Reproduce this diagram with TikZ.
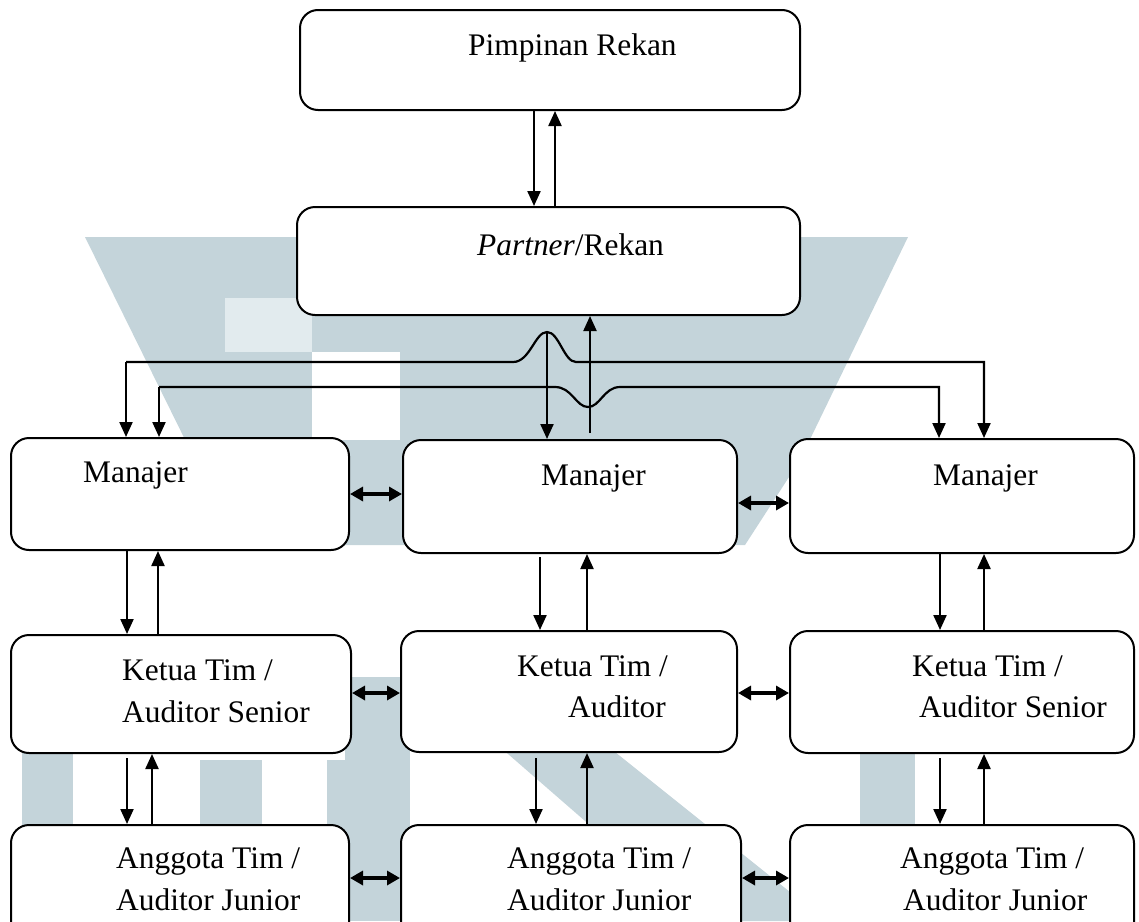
\documentclass[tikz,border=0pt]{standalone}
\usepackage{fontspec}
\setmainfont{Liberation Serif}
\usetikzlibrary{arrows.meta}
\definecolor{wm}{RGB}{196,212,218}
\definecolor{wml}{RGB}{226,235,238}
\tikzset{
  box/.style={draw=black, line width=2pt, fill=white, rounded corners=18pt, inner sep=0pt},
  lbl/.style={anchor=base west, inner sep=0pt, font=\fontsize{31.4}{40}\selectfont},
  arr/.style={line width=2.2pt, -{Triangle[length=15pt,width=13pt]}},
  dbl/.style={line width=3.2pt, {Triangle[length=13pt,width=14pt]}-{Triangle[length=13pt,width=14pt]}},
  ln/.style={line width=2.2pt}
}
\begin{document}
\begin{tikzpicture}[x=1pt,y=-1pt]
\useasboundingbox (0,0) rectangle (1139,921);
% watermark (approximate)
\fill[wm] (85,237) -- (908,237) -- (800,460) -- (745,545) -- (300,545) -- (200,470) -- cycle;
\fill[wml] (225,298) rectangle (312,352);
\fill[white] (312,352) rectangle (400,440);
\fill[wm] (345,677) rectangle (410,921);
\fill[wm] (400,660) -- (500,660) -- (800,900) -- (800,921) -- (700,921) -- cycle;
\fill[wm] (860,730) rectangle (915,921);
\fill[wm] (22,740) rectangle (73,921);
\fill[wm] (200,760) rectangle (262,921);
\fill[wm] (327,760) rectangle (345,921);
% boxes
\node[box, minimum width=500pt, minimum height=100pt] (pim) at (550,60) {};
\node[box, minimum width=503pt, minimum height=108pt] (par) at (548.5,261) {};
\node[box, minimum width=338pt, minimum height=112pt] (m1) at (180,494) {};
\node[box, minimum width=334pt, minimum height=113pt] (m2) at (570,496.5) {};
\node[box, minimum width=344pt, minimum height=114pt] (m3) at (962,496) {};
\node[box, minimum width=340pt, minimum height=118pt] (k1) at (181,694) {};
\node[box, minimum width=336pt, minimum height=121pt] (k2) at (569,691.5) {};
\node[box, minimum width=344pt, minimum height=122pt] (k3) at (962,692) {};
\node[box, minimum width=338pt, minimum height=120pt] (a1) at (180,885) {};
\node[box, minimum width=340pt, minimum height=120pt] (a2) at (571,885) {};
\node[box, minimum width=344pt, minimum height=120pt] (a3) at (962,885) {};
% labels
\node[lbl] (tpim) at (468,55) {Pimpinan Rekan};
\node[lbl] (tpar) at (477,255) {\textit{Partner}/Rekan};
\node[lbl] (tm1) at (83,482) {Manajer};
\node[lbl] (tm2) at (541,485) {Manajer};
\node[lbl] (tm3) at (933,485) {Manajer};
\node[lbl] (tk1a) at (122,680) {Ketua Tim /};
\node[lbl] (tk1b) at (122,722) {Auditor Senior};
\node[lbl] (tk2a) at (517,676) {Ketua Tim /};
\node[lbl] (tk2b) at (568,717) {Auditor};
\node[lbl] (tk3a) at (912,676) {Ketua Tim /};
\node[lbl] (tk3b) at (919,717) {Auditor Senior};
\node[lbl] (ta1a) at (116,868) {Anggota Tim /};
\node[lbl] (ta1b) at (116,910) {Auditor Junior};
\node[lbl] (ta2a) at (507,868) {Anggota Tim /};
\node[lbl] (ta2b) at (507,910) {Auditor Junior};
\node[lbl] (ta3a) at (900,868) {Anggota Tim /};
\node[lbl] (ta3b) at (903,910) {Auditor Junior};
% top connectors
\draw[arr] (pim.south -| 534,0) -- (par.north -| 534,0);
\draw[arr] (par.north -| 555,0) -- (pim.south -| 555,0);
\coordinate (upfoot) at (590,433);
\draw[arr] (upfoot) -- (par.south -| upfoot);
\coordinate (peak) at (547,332);
\draw[arr] (peak) -- (m2.north -| peak);
\draw[ln,-{Triangle[length=15pt,width=13pt]}] (126,362) -- (513,362)
  .. controls (530,362) and (535,332) .. (547,332)
  .. controls (559,332) and (564,362) .. (576,362) -- (984,362) -- (m3.north -| 984,0);
\draw[arr] (126,362) -- (m1.north -| 126,0);
\draw[ln,-{Triangle[length=15pt,width=13pt]}] (159,387) -- (555,387)
  .. controls (572,387) and (576,407) .. (588,407)
  .. controls (600,407) and (604,387) .. (620,387) -- (939,387) -- (m3.north -| 939,0);
\draw[arr] (159,387) -- (m1.north -| 159,0);
% manager -> ketua
\draw[arr] (m1.south -| 127,0) -- (k1.north -| 127,0);
\draw[arr] (k1.north -| 158,0) -- (m1.south -| 158,0);
\coordinate (m2d) at (540,557);
\draw[arr] (m2d) -- (k2.north -| m2d);
\draw[arr] (k2.north -| 587,0) -- (m2.south -| 587,0);
\draw[arr] (m3.south -| 940,0) -- (k3.north -| 940,0);
\draw[arr] (k3.north -| 984,0) -- (m3.south -| 984,0);
% ketua -> anggota
\coordinate (k1d) at (127,758);
\draw[arr] (k1d) -- (a1.north -| k1d);
\draw[arr] (a1.north -| 152,0) -- (k1.south -| 152,0);
\coordinate (k2d) at (536,758);
\draw[arr] (k2d) -- (a2.north -| k2d);
\draw[arr] (a2.north -| 587,0) -- (k2.south -| 587,0);
\coordinate (k3d) at (940,758);
\draw[arr] (k3d) -- (a3.north -| k3d);
\draw[arr] (a3.north -| 984,0) -- (k3.south -| 984,0);
% horizontal double arrows
\draw[dbl] (m1.east |- 0,494) -- (m2.west |- 0,494);
\draw[dbl] (m2.east |- 0,503) -- (m3.west |- 0,503);
\draw[dbl] (k1.east |- 0,693) -- (k2.west |- 0,693);
\draw[dbl] (k2.east |- 0,693) -- (k3.west |- 0,693);
\draw[dbl] (a1.east |- 0,878) -- (a2.west |- 0,878);
\draw[dbl] (a2.east |- 0,878) -- (a3.west |- 0,878);
\end{tikzpicture}
\end{document}
